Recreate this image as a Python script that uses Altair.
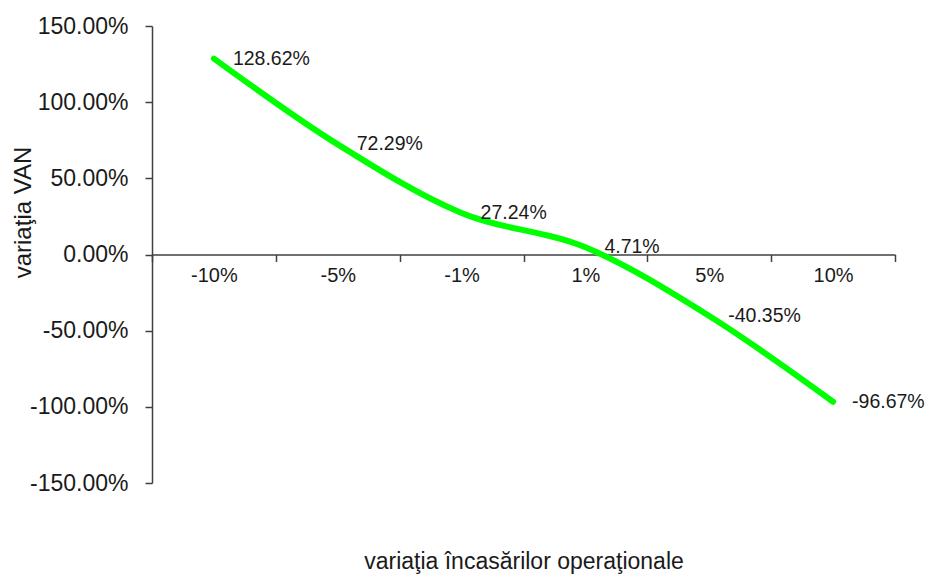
import altair as alt
import pandas as pd

categories = ["-10%", "-5%", "-1%", "1%", "5%", "10%"]
van_pct = [128.62, 72.29, 27.24, 4.71, -40.35, -96.67]
value_labels = ["128.62%", "72.29%", "27.24%", "4.71%", "-40.35%", "-96.67%"]
y_ticks = [-1.5, -1.0, -0.5, 0.0, 0.5, 1.0, 1.5]

df = pd.DataFrame({
    "cat": categories,
    "van": [v / 100 for v in van_pct],
    "lbl": value_labels,
})

FONT = "Liberation Sans"
AX = "#404040"
TXT = "#1a1a1a"

x_enc = alt.X(
    "cat:N",
    sort=categories,
    scale=alt.Scale(type="band", paddingInner=0, paddingOuter=0),
    axis=alt.Axis(
        title="variaţia  încasărilor operaţionale",
        orient="bottom",
        offset=-228.5,
        tickBand="extent",
        labelAngle=0,
        labelFontSize=20,
        labelFont=FONT,
        labelColor=TXT,
        labelPadding=4,
        labelBaseline="top",
        tickSize=7,
        tickColor=AX,
        domainColor=AX,
        domainWidth=1.5,
        tickWidth=1.5,
        titleFont=FONT,
        titleFontSize=23,
        titleFontWeight="normal",
        titleColor=TXT,
        titleY=307,
        titleBaseline="middle",
        grid=False,
    ),
)

y_enc = alt.Y(
    "van:Q",
    scale=alt.Scale(domain=[-1.5, 1.5], nice=False, zero=False),
    axis=alt.Axis(
        title="variaţia VAN",
        values=y_ticks,
        labelExpr="(datum.value < 0 ? '-' : '') + format(abs(datum.value), '.2%')",
        labelFontSize=23,
        labelFont=FONT,
        labelColor=TXT,
        labelPadding=17,
        tickSize=7,
        tickColor=AX,
        domainColor=AX,
        domainWidth=1.5,
        tickWidth=1.5,
        grid=False,
        titleFont=FONT,
        titleFontSize=24,
        titleFontWeight="normal",
        titleColor=TXT,
        titleAngle=270,
        titleX=-129,
        titleY=186,
        titleAlign="center",
        titleBaseline="middle",
    ),
)

line = alt.Chart(df).mark_line(
    color="#00ff00", strokeWidth=6, strokeCap="round", interpolate="cardinal"
).encode(x=x_enc, y=y_enc)

labels = alt.Chart(df).mark_text(
    align="left", baseline="middle", dx=19, fontSize=19.5, font=FONT, color=TXT
).encode(x=alt.X("cat:N", sort=categories), y=alt.Y("van:Q"), text="lbl:N")

chart = alt.layer(line, labels).properties(
    width=743,
    height=457,
    autosize=alt.AutoSizeParams(type="none"),
    padding={"left": 144, "top": 18, "right": 30, "bottom": 92},
).configure_view(stroke=None)

chart.save("out.html", embed_options={"renderer": "svg", "actions": False})
